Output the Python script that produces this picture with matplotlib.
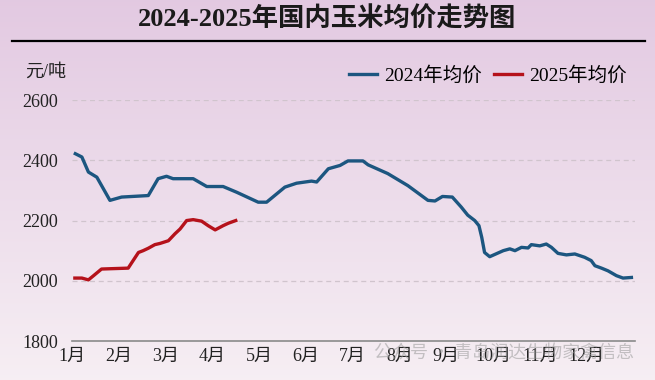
import numpy as np
import matplotlib
matplotlib.use("Agg")
import matplotlib.pyplot as plt

plt.rcParams['font.family'] = ['Liberation Serif', 'Noto Sans CJK SC']

# month position (0 = 1月初) and price
x_2024 = [0.07, 0.21, 0.35, 0.53, 0.81, 1.06, 1.63, 1.84, 2.02, 2.16, 2.59, 2.88,
          3.23, 3.52, 3.98, 4.16, 4.55, 4.80, 5.12, 5.23, 5.48, 5.73, 5.90, 6.22,
          6.33, 6.75, 7.18, 7.61, 7.76, 7.92, 8.13, 8.32, 8.46, 8.61, 8.70, 8.76,
          8.82, 8.93, 9.22, 9.36, 9.47, 9.61, 9.75, 9.82, 10.0, 10.14, 10.25, 10.39,
          10.57, 10.75, 10.96, 11.10, 11.18, 11.32, 11.46, 11.64, 11.78, 11.96]
y_2024 = [2422, 2411, 2361, 2344, 2267, 2278, 2283, 2339, 2347, 2339, 2339, 2313,
          2313, 2294, 2261, 2261, 2311, 2324, 2331, 2328, 2372, 2383, 2398, 2398,
          2385, 2356, 2316, 2267, 2265, 2280, 2278, 2245, 2218, 2200, 2183, 2144,
          2094, 2080, 2100, 2106, 2100, 2111, 2109, 2120, 2116, 2122, 2111, 2091,
          2086, 2089, 2078, 2067, 2050, 2042, 2033, 2017, 2009, 2011]

x_2025 = [0.06, 0.21, 0.35, 0.46, 0.63, 0.81, 1.20, 1.28, 1.42, 1.52, 1.63, 1.77,
          1.88, 2.06, 2.20, 2.31, 2.45, 2.59, 2.77, 2.91, 3.06, 3.23, 3.34, 3.50]
y_2025 = [2009, 2009, 2003, 2017, 2039, 2040, 2042, 2061, 2094, 2100, 2108, 2120,
          2124, 2133, 2156, 2172, 2200, 2203, 2198, 2183, 2169, 2183, 2191, 2200]

months = ['1月', '2月', '3月', '4月', '5月', '6月', '7月', '8月', '9月', '10月', '11月', '12月']
yticks = [1800, 2000, 2200, 2400, 2600]

fig = plt.figure(figsize=(6.55, 3.8), dpi=100)

# pink gradient background
bg = fig.add_axes([0, 0, 1, 1], zorder=-10)
top = np.array([0.890, 0.790, 0.885])
bot = np.array([0.965, 0.935, 0.955])
t = np.linspace(0, 1, 256)[:, None]
grad = top[None, :] * (1 - t) + bot[None, :] * t
bg.imshow(grad[:, None, :], aspect='auto', extent=[0, 1, 0, 1])
bg.axis('off')

fig.text(0.5, 0.950, '2024-2025年国内玉米均价走势图', ha='center', va='center',
         fontsize=19, fontweight='bold', color='#1a1a1a')
fig.add_artist(plt.Line2D([0.018, 0.985], [0.893, 0.893], color='black', lw=1.6))

ax = fig.add_axes([0.110, 0.1026, 0.859, 0.634])
ax.patch.set_alpha(0)
ax.plot(x_2024, y_2024, color='#1c5680', lw=2.4, label='2024年均价', solid_joinstyle='round')
ax.plot(x_2025, y_2025, color='#b5121b', lw=2.4, label='2025年均价', solid_joinstyle='round')

ax.set_xlim(0, 12.03)
ax.set_ylim(1800, 2600)
ax.set_yticks(yticks)
ax.set_xticks(range(12))
ax.set_xticklabels(months)
ax.tick_params(axis='both', length=0, labelsize=13, colors='#222222')
ax.tick_params(axis='y', pad=10)
ax.tick_params(axis='x', pad=5)
for v in yticks[1:]:
    ax.axhline(v, color='#d0c4cd', lw=0.9, ls=(0, (4, 3)), zorder=0)
for s in ['top', 'right', 'left']:
    ax.spines[s].set_visible(False)
ax.spines['bottom'].set_color('#8a8a8a')
ax.spines['bottom'].set_linewidth(1.2)

fig.text(0.038, 0.81, '元/吨', fontsize=13, color='#222222', va='center')

ax.legend(loc='lower right', bbox_to_anchor=(1.0, 1.03), ncol=2, frameon=False,
          fontsize=14, handlelength=1.45, handletextpad=0.35, columnspacing=0.65,
          borderaxespad=0)

fig.text(0.968, 0.07, '公众号 · 青岛润达生物家禽信息', ha='right', va='center',
         fontsize=13, color='#9a9a9a', alpha=0.55, family=['Noto Sans CJK SC'])

fig.savefig('out.png', dpi=100)
